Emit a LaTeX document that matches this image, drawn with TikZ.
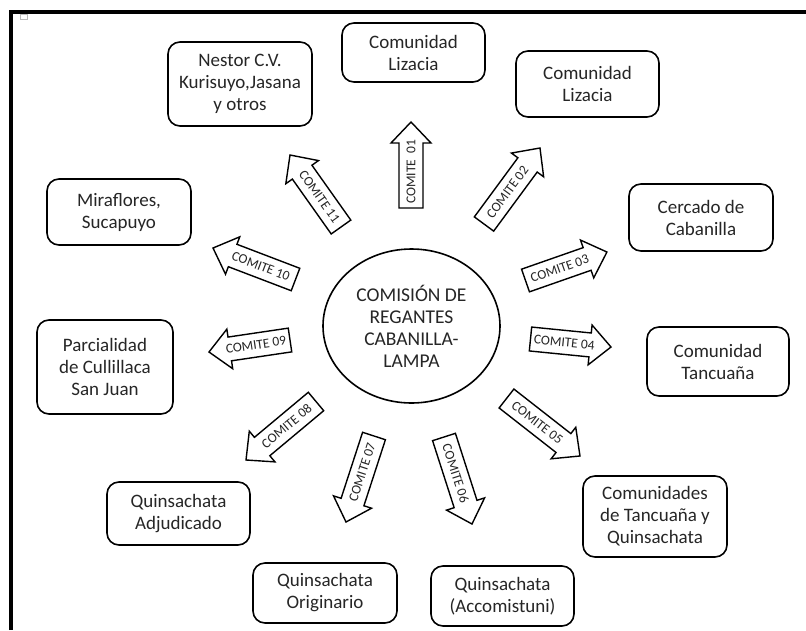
\documentclass[tikz,border=0pt]{standalone}
\usepackage{fontspec}
\setmainfont{Carlito}
\usetikzlibrary{calc,shapes.geometric}

\tikzset{
  place/.style={draw=black, line width=1.6pt, rounded corners=12pt, fill=white,
    align=center, inner sep=0pt, text=black!85,
    font=\fontsize{19}{22}\selectfont},
  hub/.style={draw=black, line width=1.6pt, ellipse, fill=white, align=center,
    inner sep=0pt, text=black!85, font=\fontsize{19.5}{22}\selectfont},
  comitebody/.style={draw=black, line width=1.4pt, fill=white, line join=miter},
  comitetext/.style={inner sep=0pt, text=black!85, font=\fontsize{13.5}{14}\selectfont},
  frame/.style={draw=black, line width=4pt, line join=miter}
}

% Block arrow from #1 (tail) to #2 (tip); the label node #3 reads upright.
\newcommand{\comite}[4]{%
  \draw[comitebody] let \p1=($(#2)-(#1)$), \n1={atan2(\y1,\x1)}, \n2={veclen(\x1,\y1)} in
    [shift={(#1)}, rotate=\n1]
    (0pt,-12pt) -- ({\n2-21pt},-12pt) -- ({\n2-21pt},-20pt) -- ({\n2+0pt},0pt)
    -- ({\n2-21pt},20pt) -- ({\n2-21pt},12pt) -- (0pt,12pt) -- cycle;
  \path let \p1=($(#2)-(#1)$), \n1={atan2(\y1,\x1)} in
    node[comitetext, rotate={\n1+ifthenelse(abs(\n1)>91,180,0)}] (#3)
      at ($(#1)!0.42!(#2)$) {#4};
}

\begin{document}
\begin{tikzpicture}[x=1pt, y=-1pt]
  \useasboundingbox (0,0) rectangle (806,630);

  % page frame and corner mark
  \draw[frame] (11,630) -- (11,12) -- (806,12);
  \draw[gray!55, line width=0.8pt] (20.5,14.5) rectangle (27.5,19.5);

  % central commission
  \node[hub, minimum width=177pt, minimum height=154pt] (hubnode) at (411.5,326)
    {COMISIÓN DE\\REGANTES\\CABANILLA-\\LAMPA};

  % communities
  \node[place, minimum width=143pt, minimum height=59pt] (liz1) at (413.5,52.5) {Comunidad\\Lizacia};
  \node[place, minimum width=143pt, minimum height=66pt] (liz2) at (587.5,84) {Comunidad\\Lizacia};
  \node[place, minimum width=144pt, minimum height=67pt] (cercado) at (701,217.5) {Cercado de\\Cabanilla};
  \node[place, minimum width=142pt, minimum height=69pt] (tancuana) at (718,361.5) {Comunidad\\Tancuaña};
  \node[place, minimum width=144pt, minimum height=81pt] (tanquin) at (655,516.5) {Comunidades\\de Tancuaña y\\Quinsachata};
  \node[place, minimum width=143pt, minimum height=60pt] (accom) at (502.5,596) {Quinsachata\\(Accomistuni)};
  \node[place, minimum width=144pt, minimum height=60pt] (orig) at (325,593) {Quinsachata\\Originario};
  \node[place, minimum width=143pt, minimum height=63pt] (adjud) at (178.5,513.5) {Quinsachata\\Adjudicado};
  \node[place, minimum width=136pt, minimum height=94pt] (parcial) at (105,367) {Parcialidad\\de Cullillaca\\San Juan};
  \node[place, minimum width=144pt, minimum height=66pt] (mira) at (119,212) {Miraflores,\\Sucapuyo};
  \node[place, minimum width=144pt, minimum height=84pt] (nestor) at (240,84) {Nestor C.V.\\Kurisuyo,Jasana\\y otros};

  % arrow tails and tips
  \coordinate (t01) at (411,208);   \coordinate (h01) at (411,122);
  \coordinate (t02) at (484,224);   \coordinate (h02) at (540,148);
  \coordinate (t03) at (525.5,280.5); \coordinate (h03) at (607,252);
  \coordinate (t04) at (530.5,339); \coordinate (h04) at (611,347);
  \coordinate (t05) at (506.5,398.5); \coordinate (h05) at (580,456);
  \coordinate (t06) at (444,437);   \coordinate (h06) at (472,524);
  \coordinate (t07) at (374,436);   \coordinate (h07) at (346,522);
  \coordinate (t08) at (316,401.5); \coordinate (h08) at (246,460);
  \coordinate (t09) at (290,340);   \coordinate (h09) at (209,352);
  \coordinate (t10) at (295.5,279.5); \coordinate (h10) at (213,248);
  \coordinate (t11) at (341,227);   \coordinate (h11) at (290,155);

  % committee arrows
  \comite{t01}{h01}{c01}{COMITE\ \ 01}
  \comite{t02}{h02}{c02}{COMITE 02}
  \comite{t03}{h03}{c03}{COMITE 03}
  \comite{t04}{h04}{c04}{COMITE 04}
  \comite{t05}{h05}{c05}{COMITE 05}
  \comite{t06}{h06}{c06}{COMITE 06}
  \comite{t07}{h07}{c07}{COMITE 07}
  \comite{t08}{h08}{c08}{COMITE 08}
  \comite{t09}{h09}{c09}{COMITE 09}
  \comite{t10}{h10}{c10}{COMITE 10}
  \comite{t11}{h11}{c11}{COMITE 11}
\end{tikzpicture}
\end{document}
